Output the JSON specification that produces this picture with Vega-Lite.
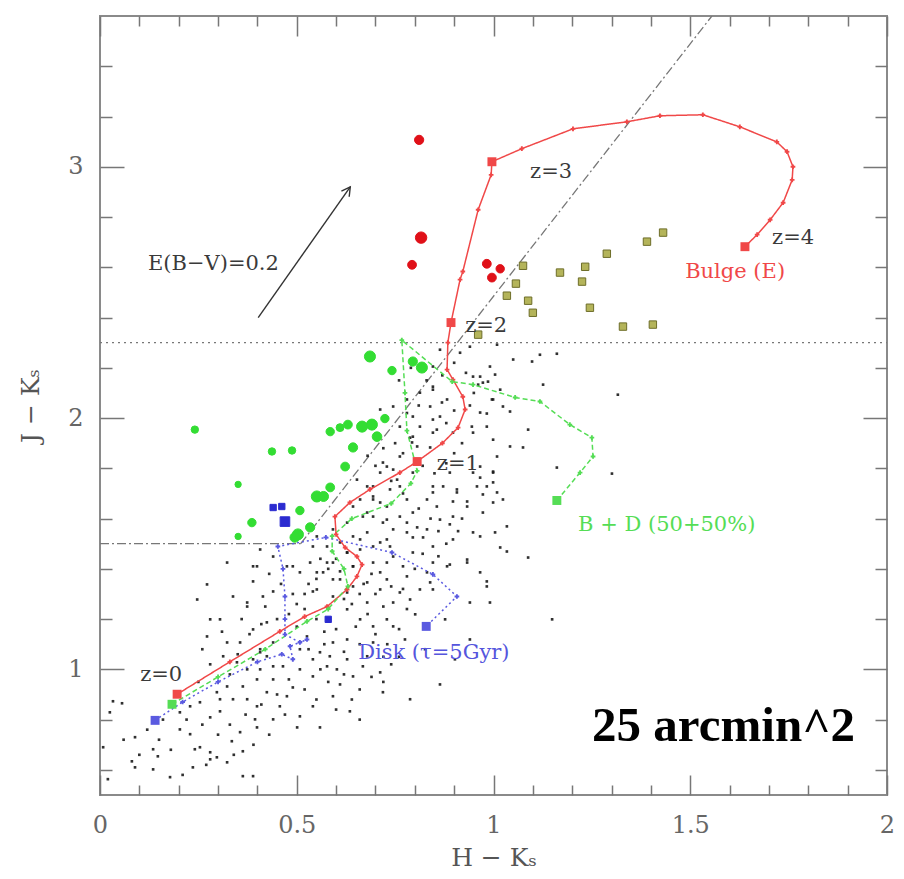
{
  "$schema": "https://vega.github.io/schema/vega-lite/v6.json",
  "width": 787,
  "height": 779,
  "autosize": {"type": "none"},
  "padding": {"left": 100, "top": 16, "right": 17, "bottom": 84},
  "background": "white",
  "config": {"view": {"stroke": "#8a8a8a", "strokeWidth": 2}, "font": "DejaVu Serif"},
  "resolve": {"axis": {"x": "independent", "y": "independent"}, "scale": {"color": "independent"}},
  "datasets": {
    "guides": [
      {"x": 0, "y": 2.3, "x2": 2, "y2": 2.3, "style": "dotted"},
      {"x": 0, "y": 1.5, "x2": 0.51, "y2": 1.5, "style": "dashdot"},
      {"x": 0.51, "y": 1.5, "x2": 1.555, "y2": 3.6, "style": "dashdot"}
    ],
    "reddening": [{"x": 0.402, "y": 2.4, "x2": 0.636, "y2": 2.92}],
    "field": [
      {"x":0.033,"y":0.873},{"x":0.056,"y":0.865},{"x":0.025,"y":0.829},{"x":0.008,"y":0.690},{"x":0.081,"y":0.634},{"x":0.089,"y":0.610},{"x":0.020,"y":0.563},{"x":0.135,"y":0.602},{"x":0.178,"y":0.571},{"x":0.089,"y":0.730},{"x":0.135,"y":0.682},{"x":0.147,"y":0.654},{"x":0.203,"y":0.761},{"x":0.229,"y":0.742},{"x":0.241,"y":0.682},{"x":0.254,"y":0.690},{"x":0.280,"y":0.670},{"x":0.297,"y":0.650},{"x":0.335,"y":0.714},{"x":0.363,"y":0.674},{"x":0.356,"y":0.750},{"x":0.394,"y":0.801},{"x":0.399,"y":0.769},{"x":0.440,"y":0.801},{"x":0.501,"y":0.769},{"x":0.559,"y":0.769},{"x":0.508,"y":0.813},{"x":0.541,"y":0.853},{"x":0.592,"y":0.893},{"x":0.635,"y":0.833},{"x":0.610,"y":0.940},{"x":0.668,"y":1.012},{"x":0.719,"y":0.909},{"x":0.280,"y":0.809},{"x":0.305,"y":0.833},{"x":0.305,"y":0.881},{"x":0.338,"y":0.881},{"x":0.374,"y":0.881},{"x":0.399,"y":0.853},{"x":0.424,"y":0.909},{"x":0.457,"y":0.853},{"x":0.475,"y":0.893},{"x":0.490,"y":0.928},{"x":0.440,"y":0.960},{"x":0.399,"y":0.960},{"x":0.363,"y":0.932},{"x":0.323,"y":0.932},{"x":0.297,"y":0.909},{"x":0.254,"y":0.869},{"x":0.229,"y":0.853},{"x":0.203,"y":0.829},{"x":0.374,"y":1.000},{"x":0.407,"y":1.000},{"x":0.440,"y":1.012},{"x":0.465,"y":1.012},{"x":0.508,"y":1.000},{"x":0.541,"y":0.972},{"x":0.577,"y":1.012},{"x":0.602,"y":1.000},{"x":0.628,"y":1.040},{"x":0.584,"y":1.052},{"x":0.541,"y":1.040},{"x":0.424,"y":1.052},{"x":0.389,"y":1.040},{"x":0.280,"y":1.199},{"x":0.272,"y":1.338},{"x":0.247,"y":1.278},{"x":0.389,"y":1.350},{"x":0.399,"y":1.410},{"x":0.323,"y":1.425},{"x":0.374,"y":1.266},{"x":0.440,"y":1.310},{"x":0.475,"y":1.410},{"x":0.508,"y":1.386},{"x":0.541,"y":1.310},{"x":0.592,"y":1.290},{"x":0.628,"y":1.239},{"x":0.661,"y":1.199},{"x":0.694,"y":1.171},{"x":0.729,"y":1.199},{"x":0.745,"y":1.266},{"x":0.679,"y":1.266},{"x":0.712,"y":1.318},{"x":0.643,"y":1.330},{"x":0.592,"y":1.358},{"x":0.551,"y":1.386},{"x":0.577,"y":1.425},{"x":0.643,"y":1.410},{"x":0.712,"y":1.386},{"x":0.729,"y":1.425},{"x":0.628,"y":1.119},{"x":0.592,"y":1.107},{"x":0.559,"y":1.068},{"x":0.526,"y":1.131},{"x":0.508,"y":1.080},{"x":0.440,"y":1.107},{"x":0.407,"y":1.080},{"x":0.356,"y":1.107},{"x":0.313,"y":1.052},{"x":0.679,"y":1.052},{"x":0.712,"y":0.988},{"x":0.643,"y":0.972},{"x":0.694,"y":1.107},{"x":0.745,"y":1.171},{"x":0.363,"y":0.575},{"x":0.323,"y":0.630},{"x":0.280,"y":0.642},{"x":0.389,"y":0.575},{"x":0.236,"y":0.610},
      {"x":0.983,"y":1.350},{"x":0.991,"y":1.266},{"x":0.940,"y":1.266},{"x":1.149,"y":1.199},{"x":0.788,"y":1.278},{"x":0.813,"y":1.318},{"x":0.839,"y":1.346},{"x":0.770,"y":1.410},{"x":0.846,"y":1.425},{"x":0.889,"y":1.417},{"x":0.933,"y":1.425},{"x":0.966,"y":1.386},
      {"x":1.009,"y":2.292},{"x":1.050,"y":2.233},{"x":1.098,"y":2.225},{"x":1.118,"y":2.252},{"x":1.161,"y":2.256},{"x":0.966,"y":2.165},{"x":1.004,"y":2.173},{"x":0.986,"y":2.145},{"x":1.017,"y":2.113},{"x":0.961,"y":2.133},{"x":1.126,"y":2.133},{"x":0.996,"y":2.074},{"x":1.024,"y":2.046},{"x":1.042,"y":2.026},{"x":0.966,"y":2.022},{"x":0.983,"y":2.018},{"x":1.088,"y":1.954},{"x":0.945,"y":1.966},{"x":0.999,"y":1.914},{"x":1.042,"y":1.887},{"x":1.075,"y":1.883},{"x":1.009,"y":1.847},{"x":1.316,"y":2.093},{"x":1.161,"y":1.803},{"x":1.301,"y":1.779},{"x":0.966,"y":1.807},{"x":0.999,"y":1.787},{"x":0.966,"y":1.763},{"x":0.999,"y":1.744},{"x":0.872,"y":1.728},{"x":0.907,"y":1.716},{"x":0.958,"y":1.728},{"x":1.009,"y":1.704},{"x":0.973,"y":1.696},{"x":0.933,"y":1.668},{"x":0.897,"y":1.668},{"x":1.024,"y":1.676},{"x":0.846,"y":1.704},{"x":0.856,"y":1.648},{"x":0.999,"y":1.664},{"x":0.780,"y":1.584},{"x":0.806,"y":1.565},{"x":0.889,"y":1.577},{"x":1.034,"y":1.569},{"x":0.795,"y":1.525},{"x":0.821,"y":1.525},{"x":0.966,"y":1.529},{"x":1.004,"y":1.545},{"x":1.017,"y":1.485},{"x":1.034,"y":1.469},{"x":1.088,"y":1.445},{"x":0.846,"y":2.113},{"x":0.869,"y":2.062},{"x":0.846,"y":1.994},{"x":0.813,"y":1.966},{"x":0.795,"y":1.926},{"x":0.856,"y":1.954},{"x":0.793,"y":1.903},
      {"x":0.653,"y":1.755},{"x":0.679,"y":1.728},{"x":0.694,"y":1.688},{"x":0.712,"y":1.664},{"x":0.737,"y":1.716},{"x":0.745,"y":1.795},{"x":0.719,"y":1.823},{"x":0.661,"y":1.676},{"x":0.643,"y":1.648},{"x":0.668,"y":1.608},{"x":0.694,"y":1.608},{"x":0.719,"y":1.584},{"x":0.745,"y":1.557},{"x":0.628,"y":1.584},{"x":0.592,"y":1.557},{"x":0.551,"y":1.529},{"x":0.541,"y":1.489},{"x":0.577,"y":1.489},{"x":0.610,"y":1.505},{"x":0.643,"y":1.529},{"x":0.679,"y":1.545},{"x":0.712,"y":1.505},{"x":0.737,"y":1.489},{"x":0.661,"y":1.477},{"x":0.628,"y":1.465},
      {"x":0.788,"y":1.922},{"x":0.806,"y":1.887},{"x":0.839,"y":1.883},{"x":0.762,"y":1.847},{"x":0.795,"y":1.783},{"x":0.729,"y":1.807},{"x":0.712,"y":1.783},{"x":0.755,"y":1.755},{"x":0.694,"y":1.728},{"x":0.762,"y":1.728},{"x":0.780,"y":1.676},{"x":0.729,"y":1.648},{"x":0.694,"y":1.676},{"x":0.679,"y":1.624},{"x":0.729,"y":1.596},{"x":0.762,"y":1.608},{"x":0.795,"y":1.624},{"x":0.831,"y":1.676},{"x":0.846,"y":1.728},{"x":0.889,"y":1.783},{"x":0.907,"y":1.704},{"x":0.933,"y":1.648},{"x":0.897,"y":1.608},{"x":0.864,"y":1.596},{"x":0.831,"y":1.557},{"x":0.780,"y":1.545},{"x":0.729,"y":1.517},{"x":0.694,"y":1.489},{"x":0.661,"y":1.517},{"x":0.628,"y":1.465},{"x":0.592,"y":1.425},{"x":0.643,"y":1.410},{"x":0.694,"y":1.425},{"x":0.745,"y":1.449},{"x":0.795,"y":1.465},{"x":0.846,"y":1.489},{"x":0.897,"y":1.517},{"x":0.948,"y":1.545},{"x":0.973,"y":1.624},{"x":0.983,"y":1.728},{"x":0.999,"y":1.783},{"x":0.948,"y":1.783},{"x":0.567,"y":1.386},{"x":0.610,"y":1.358},{"x":0.679,"y":1.346},{"x":0.729,"y":1.358},{"x":0.780,"y":1.370},{"x":0.831,"y":1.386},{"x":0.882,"y":1.410},{"x":0.933,"y":1.437},{"x":0.551,"y":1.318},{"x":0.628,"y":1.306},{"x":0.762,"y":1.306},{"x":0.846,"y":1.318},{"x":0.983,"y":1.330},{"x":0.712,"y":2.034},{"x":0.745,"y":2.046},{"x":0.780,"y":2.074},{"x":0.813,"y":2.101},{"x":0.846,"y":2.125},{"x":0.839,"y":2.046},{"x":0.864,"y":2.006},{"x":0.882,"y":2.074},{"x":0.795,"y":2.006},{"x":0.762,"y":1.966},{"x":0.846,"y":1.942},{"x":0.897,"y":1.942},{"x":0.948,"y":1.942},{"x":0.983,"y":1.966},{"x":0.999,"y":2.074},{"x":0.973,"y":2.141},{"x":0.948,"y":2.165},{"x":0.991,"y":2.205},{"x":0.846,"y":2.205},{"x":0.864,"y":2.272},{"x":0.915,"y":2.260},{"x":0.940,"y":2.284},
      {"x":0.338,"y":1.290},{"x":0.374,"y":1.250},{"x":0.414,"y":1.290},{"x":0.389,"y":1.159},{"x":0.424,"y":1.187},{"x":0.305,"y":1.199},{"x":0.272,"y":1.131},{"x":0.323,"y":1.107},{"x":0.348,"y":1.028},{"x":0.407,"y":1.068},{"x":0.389,"y":1.410},{"x":0.440,"y":1.449},{"x":0.490,"y":1.410},{"x":0.407,"y":1.477},{"x":0.534,"y":1.425},
      {"x":0.788,"y":0.881},{"x":0.864,"y":0.940},{"x":0.902,"y":1.040},{"x":0.940,"y":1.119},{"x":0.826,"y":1.080},{"x":0.775,"y":1.119},{"x":0.877,"y":1.199},{"x":0.801,"y":1.219},{"x":0.760,"y":1.050},{"x":0.740,"y":1.020},{"x":0.720,"y":0.950},
      {"x":0.48,"y":1.22},{"x":0.50,"y":1.26},{"x":0.52,"y":1.30},{"x":0.53,"y":1.34},{"x":0.55,"y":1.36},{"x":0.56,"y":1.44},{"x":0.58,"y":1.40},{"x":0.60,"y":1.44},{"x":0.61,"y":1.39},{"x":0.62,"y":1.28},{"x":0.64,"y":1.26},{"x":0.66,"y":1.30},{"x":0.67,"y":1.34},{"x":0.69,"y":1.38},{"x":0.70,"y":1.30},{"x":0.72,"y":1.25},{"x":0.68,"y":1.22},{"x":0.65,"y":1.17},{"x":0.60,"y":1.16},{"x":0.57,"y":1.15},{"x":0.55,"y":1.20},{"x":0.52,"y":1.24},{"x":0.49,"y":1.30},{"x":0.46,"y":1.34},{"x":0.43,"y":1.38},{"x":0.42,"y":1.25},{"x":0.45,"y":1.20},{"x":0.50,"y":1.17},{"x":0.53,"y":1.08},{"x":0.57,"y":1.10},{"x":0.62,"y":1.07},{"x":0.66,"y":1.10},{"x":0.70,"y":1.14},{"x":0.73,"y":1.10},{"x":0.76,"y":1.16},{"x":0.78,"y":1.24},{"x":0.74,"y":1.33},{"x":0.77,"y":1.32},{"x":0.80,"y":1.40},{"x":0.82,"y":1.46},{"x":0.86,"y":1.45},{"x":0.88,"y":1.50},{"x":0.91,"y":1.55},{"x":0.92,"y":1.60},{"x":0.86,"y":1.55},{"x":0.84,"y":1.60},{"x":0.81,"y":1.64},{"x":0.77,"y":1.70},{"x":0.74,"y":1.75},{"x":0.70,"y":1.81},{"x":0.68,"y":1.85},{"x":0.72,"y":1.88},{"x":0.75,"y":1.90},{"x":0.77,"y":1.86},{"x":0.82,"y":1.81},{"x":0.85,"y":1.78},{"x":0.88,"y":1.82},{"x":0.90,"y":1.86},{"x":0.92,"y":1.90},{"x":0.88,"y":1.98},{"x":0.90,"y":2.03},{"x":0.94,"y":2.05},{"x":0.95,"y":2.10},{"x":0.93,"y":2.18},{"x":0.90,"y":2.22},{"x":0.87,"y":2.17},{"x":0.83,"y":2.15},{"x":0.81,"y":2.05},{"x":0.78,"y":2.02},{"x":0.76,"y":2.15},{"x":0.79,"y":2.20},
      {"x":0.15,"y":0.72},{"x":0.18,"y":0.68},{"x":0.22,"y":0.80},{"x":0.26,"y":0.78},{"x":0.30,"y":0.74},{"x":0.33,"y":0.78},{"x":0.37,"y":0.82},{"x":0.41,"y":0.86},{"x":0.45,"y":0.90},{"x":0.48,"y":0.96},{"x":0.52,"y":0.92},{"x":0.55,"y":0.88},{"x":0.58,"y":0.95},{"x":0.62,"y":0.98},{"x":0.56,"y":1.00},{"x":0.47,"y":0.82},{"x":0.43,"y":0.74},{"x":0.39,"y":0.70},{"x":0.34,"y":0.66},{"x":0.27,"y":0.62},{"x":0.21,"y":0.58},{"x":0.12,"y":0.76},{"x":0.06,"y":0.72},{"x":0.10,"y":0.66},{"x":0.16,"y":0.80},{"x":0.25,"y":0.95},{"x":0.28,"y":1.02},{"x":0.33,"y":0.98},{"x":0.35,"y":1.06},{"x":0.38,"y":1.14},{"x":0.41,"y":1.18},{"x":0.36,"y":1.20},{"x":0.31,"y":1.15},{"x":0.26,"y":1.08},{"x":0.66,"y":0.92},{"x":0.69,"y":0.97},{"x":0.72,"y":1.05},{"x":0.64,"y":0.88},{"x":0.60,"y":0.84},{"x":0.66,"y":0.80}
    ],
    "observed": [
      {"x":0.811,"y":3.107,"group":"red","K":18.6},{"x":0.816,"y":2.718,"group":"red","K":18.0},{"x":0.793,"y":2.610,"group":"red","K":18.7},{"x":0.983,"y":2.614,"group":"red","K":18.7},{"x":1.017,"y":2.594,"group":"red","K":18.8},{"x":0.996,"y":2.559,"group":"red","K":18.7},
      {"x":1.075,"y":2.606,"group":"olive","K":19},{"x":1.057,"y":2.535,"group":"olive","K":19},{"x":1.034,"y":2.487,"group":"olive","K":19},{"x":1.088,"y":2.467,"group":"olive","K":19},{"x":1.100,"y":2.419,"group":"olive","K":19},{"x":1.169,"y":2.579,"group":"olive","K":19},{"x":1.233,"y":2.602,"group":"olive","K":19},{"x":1.225,"y":2.543,"group":"olive","K":19},{"x":1.288,"y":2.654,"group":"olive","K":19},{"x":1.390,"y":2.702,"group":"olive","K":19},{"x":1.431,"y":2.738,"group":"olive","K":19},{"x":1.245,"y":2.439,"group":"olive","K":19},{"x":1.329,"y":2.364,"group":"olive","K":19},{"x":1.405,"y":2.372,"group":"olive","K":19},{"x":0.961,"y":2.332,"group":"olive","K":19},
      {"x":0.686,"y":2.245,"group":"green","K":18.1},{"x":0.742,"y":2.189,"group":"green","K":18.8},{"x":0.795,"y":2.225,"group":"green","K":18.6},{"x":0.818,"y":2.201,"group":"green","K":18.1},{"x":0.585,"y":1.946,"group":"green","K":18.8},{"x":0.610,"y":1.962,"group":"green","K":18.9},{"x":0.630,"y":1.974,"group":"green","K":18.7},{"x":0.666,"y":1.966,"group":"green","K":18.1},{"x":0.691,"y":1.974,"group":"green","K":18.1},{"x":0.704,"y":1.926,"group":"green","K":18.5},{"x":0.724,"y":1.998,"group":"green","K":18.8},{"x":0.643,"y":1.883,"group":"green","K":18.6},{"x":0.623,"y":1.807,"group":"green","K":18.7},{"x":0.585,"y":1.724,"group":"green","K":18.7},{"x":0.551,"y":1.688,"group":"green","K":18.1},{"x":0.568,"y":1.688,"group":"green","K":18.4},{"x":0.508,"y":1.632,"group":"green","K":18.8},{"x":0.386,"y":1.584,"group":"green","K":18.8},{"x":0.351,"y":1.736,"group":"green","K":19.2},{"x":0.241,"y":1.954,"group":"green","K":19.0},{"x":0.437,"y":1.867,"group":"green","K":19.0},{"x":0.488,"y":1.871,"group":"green","K":19.0},{"x":0.534,"y":1.565,"group":"green","K":18.6},{"x":0.503,"y":1.537,"group":"green","K":18.1},{"x":0.495,"y":1.525,"group":"green","K":18.5},{"x":0.351,"y":1.529,"group":"green","K":19.2},
      {"x":0.470,"y":1.588,"group":"blue","K":18.5},{"x":0.440,"y":1.644,"group":"blue","K":19.2},{"x":0.462,"y":1.648,"group":"blue","K":19.2},{"x":0.580,"y":1.199,"group":"blue","K":19.2}
    ],
    "tracks": [
      {"track":"Bulge (E)","i":0,"x":0.196,"y":0.901,"z":0},
      {"track":"Bulge (E)","i":1,"x":0.33,"y":1.03},
      {"track":"Bulge (E)","i":2,"x":0.457,"y":1.151},
      {"track":"Bulge (E)","i":3,"x":0.52,"y":1.21},
      {"track":"Bulge (E)","i":4,"x":0.577,"y":1.25},
      {"track":"Bulge (E)","i":5,"x":0.628,"y":1.318},
      {"track":"Bulge (E)","i":6,"x":0.653,"y":1.37},
      {"track":"Bulge (E)","i":7,"x":0.666,"y":1.417},
      {"track":"Bulge (E)","i":8,"x":0.653,"y":1.449},
      {"track":"Bulge (E)","i":9,"x":0.623,"y":1.485},
      {"track":"Bulge (E)","i":10,"x":0.6,"y":1.537},
      {"track":"Bulge (E)","i":11,"x":0.597,"y":1.608},
      {"track":"Bulge (E)","i":12,"x":0.635,"y":1.664},
      {"track":"Bulge (E)","i":13,"x":0.686,"y":1.716},
      {"track":"Bulge (E)","i":14,"x":0.762,"y":1.783},
      {"track":"Bulge (E)","i":15,"x":0.806,"y":1.827,"z":1},
      {"track":"Bulge (E)","i":16,"x":0.87,"y":1.9},
      {"track":"Bulge (E)","i":17,"x":0.91,"y":1.962},
      {"track":"Bulge (E)","i":18,"x":0.928,"y":2.034},
      {"track":"Bulge (E)","i":19,"x":0.922,"y":2.085},
      {"track":"Bulge (E)","i":20,"x":0.897,"y":2.153},
      {"track":"Bulge (E)","i":21,"x":0.882,"y":2.193},
      {"track":"Bulge (E)","i":22,"x":0.884,"y":2.3},
      {"track":"Bulge (E)","i":23,"x":0.892,"y":2.38,"z":2},
      {"track":"Bulge (E)","i":24,"x":0.915,"y":2.551},
      {"track":"Bulge (E)","i":25,"x":0.922,"y":2.583},
      {"track":"Bulge (E)","i":26,"x":0.961,"y":2.829},
      {"track":"Bulge (E)","i":27,"x":0.994,"y":2.968},
      {"track":"Bulge (E)","i":28,"x":0.996,"y":3.02,"z":3},
      {"track":"Bulge (E)","i":29,"x":1.072,"y":3.072},
      {"track":"Bulge (E)","i":30,"x":1.202,"y":3.151},
      {"track":"Bulge (E)","i":31,"x":1.339,"y":3.179},
      {"track":"Bulge (E)","i":32,"x":1.423,"y":3.203},
      {"track":"Bulge (E)","i":33,"x":1.532,"y":3.207},
      {"track":"Bulge (E)","i":34,"x":1.626,"y":3.159},
      {"track":"Bulge (E)","i":35,"x":1.72,"y":3.099},
      {"track":"Bulge (E)","i":36,"x":1.746,"y":3.06},
      {"track":"Bulge (E)","i":37,"x":1.761,"y":3.0},
      {"track":"Bulge (E)","i":38,"x":1.759,"y":2.948},
      {"track":"Bulge (E)","i":39,"x":1.736,"y":2.857},
      {"track":"Bulge (E)","i":40,"x":1.703,"y":2.789},
      {"track":"Bulge (E)","i":41,"x":1.67,"y":2.73},
      {"track":"Bulge (E)","i":42,"x":1.639,"y":2.682,"z":4},
      {"track":"B + D (50+50%)","i":0,"x":0.183,"y":0.861,"z":0},
      {"track":"B + D (50+50%)","i":1,"x":0.3,"y":0.97},
      {"track":"B + D (50+50%)","i":2,"x":0.42,"y":1.08},
      {"track":"B + D (50+50%)","i":3,"x":0.526,"y":1.191},
      {"track":"B + D (50+50%)","i":4,"x":0.58,"y":1.24},
      {"track":"B + D (50+50%)","i":5,"x":0.63,"y":1.33},
      {"track":"B + D (50+50%)","i":6,"x":0.62,"y":1.4},
      {"track":"B + D (50+50%)","i":7,"x":0.59,"y":1.47},
      {"track":"B + D (50+50%)","i":8,"x":0.59,"y":1.53},
      {"track":"B + D (50+50%)","i":9,"x":0.64,"y":1.6},
      {"track":"B + D (50+50%)","i":10,"x":0.74,"y":1.66},
      {"track":"B + D (50+50%)","i":11,"x":0.79,"y":1.74},
      {"track":"B + D (50+50%)","i":12,"x":0.806,"y":1.79},
      {"track":"B + D (50+50%)","i":13,"x":0.78,"y":1.95},
      {"track":"B + D (50+50%)","i":14,"x":0.775,"y":2.1},
      {"track":"B + D (50+50%)","i":15,"x":0.767,"y":2.31},
      {"track":"B + D (50+50%)","i":16,"x":0.895,"y":2.145},
      {"track":"B + D (50+50%)","i":17,"x":0.948,"y":2.133},
      {"track":"B + D (50+50%)","i":18,"x":1.055,"y":2.082},
      {"track":"B + D (50+50%)","i":19,"x":1.118,"y":2.066},
      {"track":"B + D (50+50%)","i":20,"x":1.194,"y":1.974},
      {"track":"B + D (50+50%)","i":21,"x":1.25,"y":1.922},
      {"track":"B + D (50+50%)","i":22,"x":1.253,"y":1.847},
      {"track":"B + D (50+50%)","i":23,"x":1.22,"y":1.783},
      {"track":"B + D (50+50%)","i":24,"x":1.161,"y":1.672,"z":4},
      {"track":"Disk (τ=5Gyr)","i":0,"x":0.14,"y":0.797,"z":0},
      {"track":"Disk (τ=5Gyr)","i":1,"x":0.21,"y":0.87},
      {"track":"Disk (τ=5Gyr)","i":2,"x":0.3,"y":0.95},
      {"track":"Disk (τ=5Gyr)","i":3,"x":0.4,"y":1.03},
      {"track":"Disk (τ=5Gyr)","i":4,"x":0.462,"y":1.06},
      {"track":"Disk (τ=5Gyr)","i":5,"x":0.49,"y":1.04},
      {"track":"Disk (τ=5Gyr)","i":6,"x":0.483,"y":1.092},
      {"track":"Disk (τ=5Gyr)","i":7,"x":0.526,"y":1.119},
      {"track":"Disk (τ=5Gyr)","i":8,"x":0.508,"y":1.107},
      {"track":"Disk (τ=5Gyr)","i":9,"x":0.47,"y":1.139},
      {"track":"Disk (τ=5Gyr)","i":10,"x":0.47,"y":1.2},
      {"track":"Disk (τ=5Gyr)","i":11,"x":0.47,"y":1.29},
      {"track":"Disk (τ=5Gyr)","i":12,"x":0.465,"y":1.4},
      {"track":"Disk (τ=5Gyr)","i":13,"x":0.452,"y":1.489},
      {"track":"Disk (τ=5Gyr)","i":14,"x":0.574,"y":1.525},
      {"track":"Disk (τ=5Gyr)","i":15,"x":0.742,"y":1.465},
      {"track":"Disk (τ=5Gyr)","i":16,"x":0.846,"y":1.378},
      {"track":"Disk (τ=5Gyr)","i":17,"x":0.907,"y":1.29},
      {"track":"Disk (τ=5Gyr)","i":18,"x":0.829,"y":1.171,"z":4}
    ],
    "labels": [
      {"x":0.122,"y":2.59,"text":"E(B−V)=0.2","group":"ink"},
      {"x":1.093,"y":2.956,"text":"z=3","group":"ink"},
      {"x":1.708,"y":2.694,"text":"z=4","group":"ink"},
      {"x":1.487,"y":2.559,"text":"Bulge (E)","group":"Bulge (E)"},
      {"x":0.928,"y":2.344,"text":"z=2","group":"ink"},
      {"x":0.856,"y":1.795,"text":"z=1","group":"ink"},
      {"x":1.215,"y":1.549,"text":"B + D (50+50%)","group":"B + D (50+50%)"},
      {"x":0.656,"y":1.04,"text":"Disk (τ=5Gyr)","group":"Disk (τ=5Gyr)"},
      {"x":0.102,"y":0.952,"text":"z=0","group":"ink"}
    ],
    "area": [{"x":1.919,"y":0.714,"text":"25 arcmin^2"}]
  },
  "layer": [
    {
      "data": {"name": "guides"},
      "transform": [{"filter": "datum.style == 'dotted'"}],
      "mark": {"type": "rule", "stroke": "#777", "strokeDash": [2, 4], "strokeWidth": 1.3},
      "encoding": {
        "x": {"field": "x", "type": "quantitative", "scale": {"domain": [0, 2], "nice": false, "zero": false},
          "axis": {"orient": "top", "values": [0,0.1,0.2,0.3,0.4,0.5,0.6,0.7,0.8,0.9,1,1.1,1.2,1.3,1.4,1.5,1.6,1.7,1.8,1.9,2], "labels": false, "title": null, "domain": false, "grid": false, "tickColor": "#777", "tickWidth": 1.5,
            "tickSize": {"condition": {"test": "abs(datum.value*2-round(datum.value*2))<0.001", "value": -20}, "value": -10}}},
        "y": {"field": "y", "type": "quantitative", "scale": {"domain": [0.5, 3.6], "nice": false, "zero": false},
          "axis": {"orient": "right", "values": [0.6,0.8,1,1.2,1.4,1.6,1.8,2,2.2,2.4,2.6,2.8,3,3.2,3.4], "labels": false, "title": null, "domain": false, "grid": false, "tickColor": "#777", "tickWidth": 1.5,
            "tickSize": {"condition": {"test": "abs(datum.value-round(datum.value))<0.001", "value": -24}, "value": -12}}},
        "x2": {"field": "x2"},
        "y2": {"field": "y2"}
      }
    },
    {
      "data": {"name": "guides"},
      "transform": [{"filter": "datum.style == 'dashdot'"}],
      "mark": {"type": "rule", "stroke": "#777", "strokeDash": [9, 3, 2, 3], "strokeWidth": 1.3, "clip": true},
      "encoding": {
        "x": {"field": "x", "type": "quantitative", "axis": null},
        "y": {"field": "y", "type": "quantitative", "axis": null},
        "x2": {"field": "x2"},
        "y2": {"field": "y2"}
      }
    },
    {
      "data": {"name": "reddening"},
      "mark": {"type": "rule", "stroke": "#333", "strokeWidth": 1.4},
      "encoding": {
        "x": {"field": "x", "type": "quantitative", "axis": null},
        "y": {"field": "y", "type": "quantitative", "axis": null},
        "x2": {"field": "x2"},
        "y2": {"field": "y2"}
      }
    },
    {
      "data": {"name": "reddening"},
      "mark": {"type": "point", "shape": "M-0.55,1L0,0L0.55,1", "filled": false, "stroke": "#333", "strokeWidth": 1.4, "size": 300, "angle": 35, "opacity": 1},
      "encoding": {
        "x": {"field": "x2", "type": "quantitative", "axis": null},
        "y": {"field": "y2", "type": "quantitative", "axis": null}
      }
    },
    {
      "data": {"name": "field"},
      "mark": {"type": "point", "shape": "square", "filled": true, "color": "#1a1a1a", "size": 7, "opacity": 0.9, "clip": true},
      "encoding": {
        "x": {"field": "x", "type": "quantitative", "scale": {"domain": [0, 2], "nice": false, "zero": false},
          "axis": {"orient": "bottom", "values": [0,0.1,0.2,0.3,0.4,0.5,0.6,0.7,0.8,0.9,1,1.1,1.2,1.3,1.4,1.5,1.6,1.7,1.8,1.9,2], "format": "~g",
            "labelExpr": "abs(datum.value*2-round(datum.value*2))<0.001 ? datum.label : ''",
            "tickSize": {"condition": {"test": "abs(datum.value*2-round(datum.value*2))<0.001", "value": -20}, "value": -10},
            "tickColor": "#777", "tickWidth": 1.5, "domain": false, "grid": false, "labelPadding": 38, "labelOverlap": false, "labelFlush": false,
            "labelFont": "DejaVu Serif", "labelFontSize": 24, "labelColor": "#666",
            "title": "H − Kₛ", "titleFont": "DejaVu Serif", "titleFontSize": 25, "titleFontWeight": "normal", "titleColor": "#555", "titlePadding": -2}},
        "y": {"field": "y", "type": "quantitative", "scale": {"domain": [0.5, 3.6], "nice": false, "zero": false},
          "axis": {"orient": "left", "values": [0.6,0.8,1,1.2,1.4,1.6,1.8,2,2.2,2.4,2.6,2.8,3,3.2,3.4], "format": "~g",
            "labelExpr": "abs(datum.value-round(datum.value))<0.001 ? datum.label : ''",
            "tickSize": {"condition": {"test": "abs(datum.value-round(datum.value))<0.001", "value": -24}, "value": -12},
            "tickColor": "#777", "tickWidth": 1.5, "domain": false, "grid": false, "labelPadding": 41, "labelOverlap": false, "labelFlush": false,
            "labelFont": "DejaVu Serif", "labelFontSize": 24, "labelColor": "#666",
            "title": "J − Kₛ", "titleFont": "DejaVu Serif", "titleFontSize": 25, "titleFontWeight": "normal", "titleColor": "#555", "titlePadding": 24}}
      }
    },
    {
      "data": {"name": "tracks"},
      "mark": {"type": "line", "strokeWidth": 1.5, "clip": true},
      "encoding": {
        "x": {"field": "x", "type": "quantitative", "axis": null},
        "y": {"field": "y", "type": "quantitative", "axis": null},
        "order": {"field": "i", "type": "quantitative"},
        "color": {"field": "track", "type": "nominal", "legend": null,
          "scale": {"domain": ["Bulge (E)", "B + D (50+50%)", "Disk (τ=5Gyr)"], "range": ["#f04848", "#55dd55", "#5a5ae0"]}},
        "strokeDash": {"field": "track", "type": "nominal", "legend": null,
          "scale": {"domain": ["Bulge (E)", "B + D (50+50%)", "Disk (τ=5Gyr)"], "range": [[1, 0], [5, 3], [2, 3]]}}
      }
    },
    {
      "data": {"name": "tracks"},
      "mark": {"type": "point", "shape": "cross", "filled": true, "size": 22, "opacity": 1},
      "encoding": {
        "x": {"field": "x", "type": "quantitative", "axis": null},
        "y": {"field": "y", "type": "quantitative", "axis": null},
        "color": {"field": "track", "type": "nominal", "legend": null,
          "scale": {"domain": ["Bulge (E)", "B + D (50+50%)", "Disk (τ=5Gyr)"], "range": ["#f04848", "#55dd55", "#5a5ae0"]}}
      }
    },
    {
      "data": {"name": "tracks"},
      "transform": [{"filter": "isValid(datum.z)"}],
      "mark": {"type": "point", "shape": "square", "filled": true, "size": 80, "opacity": 1},
      "encoding": {
        "x": {"field": "x", "type": "quantitative", "axis": null},
        "y": {"field": "y", "type": "quantitative", "axis": null},
        "color": {"field": "track", "type": "nominal", "legend": null,
          "scale": {"domain": ["Bulge (E)", "B + D (50+50%)", "Disk (τ=5Gyr)"], "range": ["#f04848", "#55dd55", "#5a5ae0"]}}
      }
    },
    {
      "data": {"name": "observed"},
      "mark": {"type": "point", "filled": true, "opacity": 1, "strokeWidth": 1},
      "encoding": {
        "x": {"field": "x", "type": "quantitative", "axis": null},
        "y": {"field": "y", "type": "quantitative", "axis": null},
        "shape": {"field": "group", "type": "nominal", "legend": null,
          "scale": {"domain": ["red", "green", "olive", "blue"], "range": ["circle", "circle", "square", "square"]}},
        "fill": {"field": "group", "type": "nominal", "legend": null,
          "scale": {"domain": ["red", "green", "olive", "blue"], "range": ["#e01018", "#33dd33", "#b4b45a", "#2b2bd0"]}},
        "stroke": {"field": "group", "type": "nominal", "legend": null,
          "scale": {"domain": ["red", "green", "olive", "blue"], "range": ["#e01018", "#33dd33", "#6e6e2a", "#2b2bd0"]}},
        "size": {"field": "K", "type": "quantitative", "legend": null, "scale": {"domain": [18, 19.2], "range": [130, 40]}}
      }
    },
    {
      "data": {"name": "labels"},
      "mark": {"type": "text", "align": "left", "baseline": "alphabetic", "font": "DejaVu Serif", "fontSize": 21},
      "encoding": {
        "x": {"field": "x", "type": "quantitative", "axis": null},
        "y": {"field": "y", "type": "quantitative", "axis": null},
        "text": {"field": "text", "type": "nominal"},
        "color": {"field": "group", "type": "nominal", "legend": null,
          "scale": {"domain": ["ink", "Bulge (E)", "B + D (50+50%)", "Disk (τ=5Gyr)"], "range": ["#3a3a3a", "#f04848", "#55dd55", "#5555dd"]}}
      }
    },
    {
      "data": {"name": "area"},
      "mark": {"type": "text", "align": "right", "baseline": "alphabetic", "font": "Liberation Serif", "fontSize": 49, "fontWeight": "bold", "color": "#000"},
      "encoding": {
        "x": {"field": "x", "type": "quantitative", "axis": null},
        "y": {"field": "y", "type": "quantitative", "axis": null},
        "text": {"field": "text", "type": "nominal"}
      }
    }
  ]
}
